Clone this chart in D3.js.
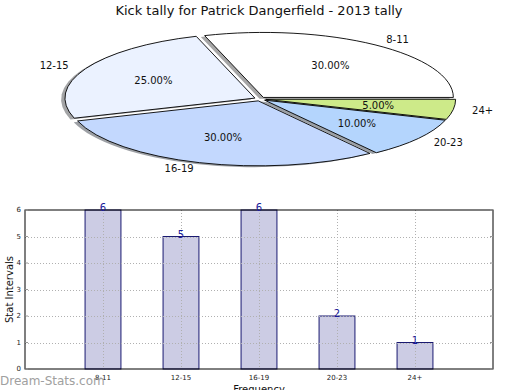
<!DOCTYPE html>
<html>
<head>
<meta charset="utf-8">
<script src="https://cdn.jsdelivr.net/npm/d3@7"></script>
<style>
body { margin: 0; background: #fff; }
svg { display: block; font-family: "DejaVu Sans", sans-serif; }
</style>
</head>
<body>
<svg id="chart" width="520" height="390"></svg>
<script>
// data
var categories = ["8-11", "12-15", "16-19", "20-23", "24+"];
var counts = [6, 5, 6, 2, 1];
var pieColors = ["#ffffff", "#ebf2ff", "#c3d8fe", "#b4d5fd", "#cdea89"];
var yTicks = [0, 1, 2, 3, 4, 5, 6];

(function() {
var svg = d3.select("#chart");

svg.append("text")
    .attr("x", 259).attr("y", 15)
    .attr("text-anchor", "middle")
    .attr("font-size", 13)
    .attr("fill", "#111")
    .text("Kick tally for Patrick Dangerfield - 2013 tally");

// pie (matplotlib style: counter clockwise from 3 o'clock, squashed)
var cx = 260, cy = 99, rx = 190, ry = 65, explode = 0.03;
var total = d3.sum(counts);

var pie = d3.pie().sort(null)
    .startAngle(Math.PI / 2)
    .endAngle(Math.PI / 2 - 2 * Math.PI);
var arcs = pie(counts);
var arc = d3.arc().innerRadius(0).outerRadius(1);

function unit(a) { return [Math.sin(a), -Math.cos(a)]; }

var pg = svg.append("g");

// shadows first
arcs.forEach(function(d, i) {
    var m = (d.startAngle + d.endAngle) / 2, u = unit(m);
    var ox = cx + u[0] * explode * rx - 0.02 * rx;
    var oy = cy + u[1] * explode * ry + 0.02 * ry;
    var c = d3.rgb(pieColors[i]);
    pg.append("path")
        .attr("transform", "translate(" + ox + "," + oy + ") scale(" + rx + "," + ry + ")")
        .attr("d", arc(d))
        .attr("fill", d3.rgb(c.r * 0.3, c.g * 0.3, c.b * 0.3))
        .attr("fill-opacity", 0.5);
});

arcs.forEach(function(d, i) {
    var m = (d.startAngle + d.endAngle) / 2, u = unit(m);
    var ox = cx + u[0] * explode * rx;
    var oy = cy + u[1] * explode * ry;
    pg.append("path")
        .attr("transform", "translate(" + ox + "," + oy + ") scale(" + rx + "," + ry + ")")
        .attr("d", arc(d))
        .attr("fill", pieColors[i])
        .attr("stroke", "#000")
        .attr("stroke-width", 0.9)
        .attr("vector-effect", "non-scaling-stroke");

    var lx = ox + 1.1 * rx * u[0], ly = oy + 1.1 * ry * u[1];
    pg.append("text")
        .attr("x", lx).attr("y", ly)
        .attr("text-anchor", u[0] > 0 ? "start" : "end")
        .attr("dominant-baseline", "central")
        .attr("font-size", 10)
        .attr("fill", "#111")
        .text(categories[i]);

    pg.append("text")
        .attr("x", ox + 0.6 * rx * u[0]).attr("y", oy + 0.6 * ry * u[1])
        .attr("text-anchor", "middle")
        .attr("dominant-baseline", "central")
        .attr("font-size", 10)
        .attr("fill", "#111")
        .text((counts[i] / total * 100).toFixed(2) + "%");
});

// bar chart
var pl = 25, pr = 493, pt = 210, pb = 369;
var x = d3.scaleLinear().domain([-1, 5]).range([pl, pr]);
var y = d3.scaleLinear().domain([0, 6]).range([pb, pt]);
var barW = 0.46;

var bg = svg.append("g");

bg.selectAll("rect.bar")
    .data(counts)
    .enter()
    .append("rect")
    .attr("class", "bar")
    .attr("x", function(d, i) { return x(i - barW / 2); })
    .attr("y", function(d) { return y(d); })
    .attr("width", function() { return x(barW) - x(0); })
    .attr("height", function(d) { return pb - y(d); })
    .attr("fill", "#ccccE4")
    .attr("stroke", "#191970")
    .attr("stroke-width", 1);

// grid (drawn over bars)
bg.selectAll("line.hg")
    .data(yTicks.slice(1, -1))
    .enter()
    .append("line")
    .attr("x1", pl).attr("x2", pr)
    .attr("y1", function(d) { return Math.round(y(d)) + 0.5; })
    .attr("y2", function(d) { return Math.round(y(d)) + 0.5; })
    .attr("stroke", "#b0b0b0")
    .attr("stroke-dasharray", "1,2");

bg.selectAll("line.vg")
    .data(categories)
    .enter()
    .append("line")
    .attr("x1", function(d, i) { return Math.round(x(i)) + 0.5; })
    .attr("x2", function(d, i) { return Math.round(x(i)) + 0.5; })
    .attr("y1", pt).attr("y2", pb)
    .attr("stroke", "#b0b0b0")
    .attr("stroke-dasharray", "1,2");

bg.append("rect")
    .attr("x", pl).attr("y", pt)
    .attr("width", pr - pl).attr("height", pb - pt)
    .attr("fill", "none")
    .attr("stroke", "#000")
    .attr("stroke-width", 1);

// y ticks
yTicks.forEach(function(t) {
    bg.append("line")
        .attr("x1", pl).attr("x2", pl + 3)
        .attr("y1", y(t)).attr("y2", y(t))
        .attr("stroke", "#999");
    bg.append("line")
        .attr("x1", pr - 3).attr("x2", pr)
        .attr("y1", y(t)).attr("y2", y(t))
        .attr("stroke", "#999");
    bg.append("text")
        .attr("x", pl - 4).attr("y", y(t))
        .attr("text-anchor", "end")
        .attr("dominant-baseline", "central")
        .attr("font-size", 7)
        .attr("fill", "#222")
        .text(t);
});

categories.forEach(function(c, i) {
    bg.append("text")
        .attr("x", x(i)).attr("y", pb + 11)
        .attr("text-anchor", "middle")
        .attr("font-size", 7)
        .attr("fill", "#222")
        .text(c);
    bg.append("text")
        .attr("x", x(i)).attr("y", y(counts[i]) + 1)
        .attr("text-anchor", "middle")
        .attr("font-size", 10)
        .attr("fill", "#1a1a9a")
        .text(counts[i]);
});

svg.append("text")
    .attr("transform", "translate(13," + ((pt + pb) / 2) + ") rotate(-90)")
    .attr("text-anchor", "middle")
    .attr("font-size", 10)
    .attr("fill", "#111")
    .text("Stat Intervals");

svg.append("text")
    .attr("x", (pl + pr) / 2).attr("y", 393)
    .attr("text-anchor", "middle")
    .attr("font-size", 10)
    .attr("fill", "#111")
    .text("Frequency");

svg.append("text")
    .attr("x", 0).attr("y", 385)
    .attr("font-size", 12)
    .attr("fill", "#a0a0a0")
    .text("Dream-Stats.com");
})();
</script>
</body>
</html>
